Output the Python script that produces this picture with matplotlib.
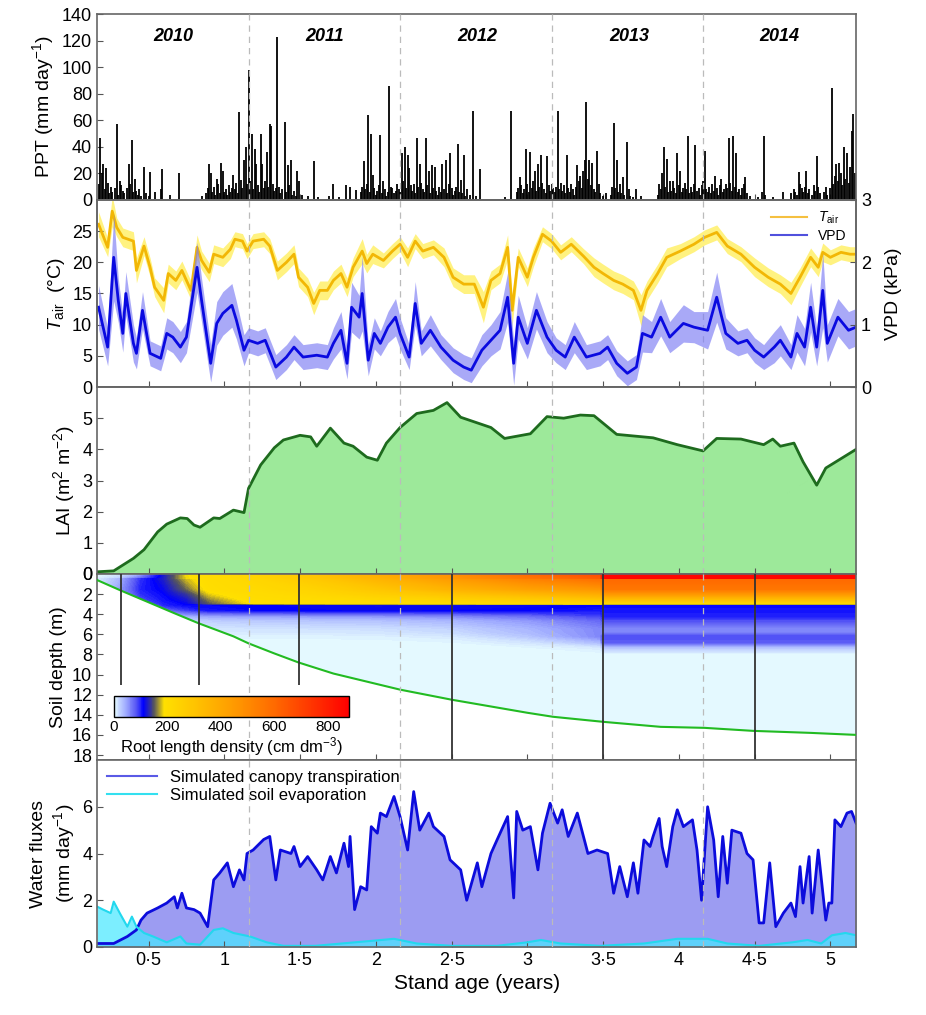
import numpy as np
import matplotlib
matplotlib.use("Agg")
import matplotlib.pyplot as plt
from matplotlib.colors import LinearSegmentedColormap, Normalize
from matplotlib.cm import ScalarMappable
from matplotlib.lines import Line2D
from matplotlib.ticker import FuncFormatter

plt.rcParams['font.family'] = ['Liberation Sans', 'DejaVu Sans']
plt.rcParams['mathtext.fontset'] = 'custom'
plt.rcParams['mathtext.rm'] = 'Liberation Sans'
plt.rcParams['mathtext.it'] = 'Liberation Sans:italic'
plt.rcParams['mathtext.bf'] = 'Liberation Sans:bold'

# ---------------- data (stand age in years) ----------------
year_names = ['2010', '2011', '2012', '2013', '2014']
year_label_age = [0.66, 1.66, 2.67, 3.67, 4.66]
year_starts = [1.16, 2.16, 3.16, 4.16]

# daily rainfall events (age, mm/day)
ppt = [(0.17, 12), (0.18, 47), (0.19, 20), (0.20, 27), (0.21, 8), (0.22, 24), (0.23, 13), (0.24, 5),
       (0.25, 10), (0.26, 6), (0.28, 9), (0.29, 57), (0.30, 4), (0.31, 14), (0.32, 11), (0.33, 7),
       (0.34, 5), (0.36, 9), (0.37, 27), (0.38, 12), (0.39, 45), (0.40, 6), (0.41, 16), (0.42, 7),
       (0.43, 4), (0.44, 8), (0.45, 3), (0.47, 25), (0.48, 5), (0.50, 3), (0.51, 21), (0.54, 6),
       (0.58, 8), (0.59, 23), (0.64, 4), (0.70, 20), (0.85, 3), (0.88, 5), (0.89, 9), (0.90, 27),
       (0.91, 20), (0.92, 6), (0.93, 10), (0.94, 4), (0.95, 16), (0.96, 12), (0.97, 5), (0.98, 28),
       (0.99, 22), (1.00, 6), (1.01, 8), (1.02, 4), (1.03, 11), (1.04, 6), (1.05, 9), (1.06, 19),
       (1.07, 8), (1.08, 13), (1.09, 5), (1.10, 66), (1.11, 15), (1.12, 9), (1.13, 30), (1.14, 40),
       (1.15, 12), (1.16, 98), (1.17, 14), (1.18, 50), (1.19, 8), (1.20, 38), (1.21, 27), (1.22, 11),
       (1.23, 6), (1.24, 50), (1.25, 27), (1.26, 9), (1.27, 14), (1.28, 36), (1.29, 10), (1.30, 57),
       (1.31, 56), (1.32, 12), (1.33, 7), (1.34, 9), (1.35, 123), (1.36, 10), (1.37, 5), (1.38, 8),
       (1.40, 59), (1.41, 6), (1.42, 26), (1.43, 11), (1.44, 30), (1.45, 4), (1.46, 7), (1.47, 3),
       (1.48, 22), (1.49, 14), (1.51, 4), (1.55, 3), (1.59, 29), (1.62, 2), (1.69, 3), (1.72, 12),
       (1.76, 2), (1.80, 11), (1.83, 10), (1.87, 7.5), (1.90, 6), (1.91, 10), (1.92, 29), (1.93, 8),
       (1.94, 12), (1.95, 64), (1.96, 6), (1.97, 50), (1.98, 19), (1.99, 9), (2.00, 4), (2.01, 7),
       (2.02, 11), (2.03, 49), (2.04, 5), (2.05, 14), (2.06, 8), (2.07, 3), (2.08, 6), (2.09, 86),
       (2.10, 10), (2.11, 9), (2.12, 5), (2.13, 7), (2.14, 12), (2.15, 8), (2.16, 6), (2.17, 35),
       (2.18, 14), (2.19, 40), (2.20, 9), (2.21, 34), (2.22, 24), (2.23, 11), (2.24, 7), (2.25, 12),
       (2.26, 5), (2.27, 47), (2.28, 10), (2.29, 27), (2.30, 13), (2.31, 8), (2.32, 6), (2.33, 47),
       (2.34, 11), (2.35, 22), (2.36, 5), (2.37, 26), (2.38, 9), (2.39, 25), (2.40, 7), (2.41, 4),
       (2.42, 10), (2.43, 6), (2.44, 27), (2.45, 8), (2.46, 30), (2.47, 5), (2.48, 12), (2.49, 35),
       (2.50, 9), (2.51, 4), (2.52, 7), (2.53, 10), (2.54, 42), (2.55, 6), (2.56, 15), (2.57, 5),
       (2.58, 34), (2.59, 3), (2.60, 8), (2.62, 4), (2.64, 67), (2.66, 3), (2.69, 23), (2.85, 2),
       (2.89, 67), (2.93, 6), (2.94, 9), (2.95, 17), (2.96, 11), (2.97, 5), (2.98, 8), (2.99, 38),
       (3.00, 12), (3.01, 6), (3.02, 36), (3.03, 9), (3.04, 14), (3.05, 22), (3.06, 7), (3.07, 27),
       (3.08, 10), (3.09, 34), (3.10, 13), (3.11, 8), (3.12, 5), (3.13, 33), (3.14, 11), (3.15, 7),
       (3.16, 12), (3.17, 9), (3.18, 6), (3.19, 10), (3.20, 67), (3.21, 8), (3.22, 13), (3.23, 7),
       (3.24, 11), (3.25, 5), (3.26, 34), (3.27, 9), (3.28, 6), (3.29, 12), (3.30, 8), (3.31, 4),
       (3.32, 10), (3.33, 26), (3.34, 14), (3.35, 18), (3.36, 9), (3.37, 22), (3.38, 30), (3.39, 74),
       (3.40, 16), (3.41, 30), (3.42, 11), (3.43, 28), (3.44, 8), (3.45, 6), (3.46, 37), (3.47, 12),
       (3.48, 5), (3.50, 3), (3.52, 5), (3.55, 4), (3.56, 10), (3.57, 58), (3.58, 9), (3.59, 30),
       (3.60, 6), (3.61, 12), (3.62, 5), (3.63, 17), (3.64, 4), (3.66, 44), (3.67, 8), (3.68, 3),
       (3.70, 2), (3.72, 8), (3.75, 3), (3.86, 4), (3.87, 12), (3.88, 8), (3.89, 20), (3.90, 40),
       (3.91, 10), (3.92, 31), (3.93, 6), (3.94, 14), (3.95, 7), (3.96, 14), (3.97, 9), (3.98, 5),
       (3.99, 35), (4.00, 11), (4.01, 22), (4.02, 6), (4.03, 9), (4.04, 13), (4.05, 8), (4.06, 48),
       (4.07, 5), (4.08, 10), (4.09, 6), (4.10, 12), (4.11, 41), (4.12, 7), (4.13, 9), (4.14, 4),
       (4.15, 11), (4.16, 14), (4.17, 37), (4.18, 8), (4.19, 6), (4.20, 10), (4.21, 5), (4.22, 12),
       (4.23, 7), (4.24, 18), (4.25, 9), (4.26, 4), (4.27, 11), (4.28, 16), (4.29, 6), (4.30, 8),
       (4.31, 12), (4.32, 9), (4.33, 47), (4.34, 13), (4.35, 7), (4.36, 48), (4.37, 10), (4.38, 35),
       (4.39, 6), (4.40, 8), (4.41, 4), (4.42, 9), (4.43, 12), (4.44, 17), (4.45, 5), (4.47, 3),
       (4.52, 2), (4.55, 6), (4.56, 48), (4.57, 4), (4.62, 2), (4.69, 6), (4.74, 5), (4.76, 8),
       (4.77, 6), (4.78, 4), (4.79, 21), (4.80, 12), (4.81, 9), (4.82, 6), (4.83, 10), (4.84, 22),
       (4.85, 5), (4.86, 8), (4.88, 4), (4.89, 11), (4.90, 7), (4.91, 33), (4.92, 10), (4.93, 5),
       (4.96, 6), (4.97, 10), (4.98, 4), (5.00, 9), (5.01, 84), (5.02, 12), (5.03, 18), (5.04, 27),
       (5.05, 14), (5.06, 28), (5.07, 20), (5.08, 11), (5.09, 40), (5.10, 16), (5.11, 35), (5.12, 13),
       (5.13, 25), (5.14, 52), (5.15, 65), (5.16, 20)]

tair_age = [0.17, 0.23, 0.26, 0.29, 0.33, 0.40, 0.42, 0.47, 0.51, 0.54, 0.60, 0.63, 0.68, 0.72, 0.78,
            0.82, 0.85, 0.90, 0.93, 0.99, 1.04, 1.07, 1.12, 1.15, 1.19, 1.26, 1.30, 1.35, 1.41, 1.46,
            1.49, 1.55, 1.59, 1.63, 1.68, 1.72, 1.77, 1.81, 1.85, 1.91, 1.94, 1.98, 2.05, 2.11, 2.16,
            2.21, 2.26, 2.31, 2.38, 2.45, 2.51, 2.58, 2.65, 2.71, 2.76, 2.82, 2.87, 2.90, 2.94, 3.00,
            3.04, 3.10, 3.16, 3.22, 3.29, 3.37, 3.44, 3.50, 3.57, 3.63, 3.70, 3.75, 3.79, 3.86, 3.92,
            4.01, 4.10, 4.17, 4.25, 4.32, 4.41, 4.50, 4.59, 4.67, 4.74, 4.80, 4.87, 4.92, 4.95, 5.00,
            5.07, 5.13, 5.17]
tair_val = [26.1, 22.4, 28.2, 25.6, 24.0, 23.4, 18.7, 22.6, 19.2, 16.0, 13.9, 18.2, 17.1, 18.7, 15.5,
            22.4, 20.3, 18.4, 21.3, 20.8, 22.1, 23.7, 23.4, 21.8, 23.4, 23.7, 22.6, 18.7, 20.0, 21.3,
            17.6, 16.0, 13.4, 15.5, 15.5, 17.1, 18.2, 16.0, 19.2, 21.8, 19.8, 21.3, 20.3, 21.8, 22.9,
            20.8, 23.4, 21.8, 22.4, 20.8, 17.6, 16.5, 16.5, 12.8, 17.1, 18.2, 22.4, 12.3, 20.8, 17.6,
            20.8, 24.5, 23.4, 21.6, 22.9, 21.0, 19.2, 18.2, 17.1, 16.5, 15.5, 12.3, 15.5, 18.2, 20.8,
            21.8, 22.9, 24.0, 24.8, 22.6, 21.3, 19.2, 17.6, 16.5, 15.0, 17.6, 20.8, 19.2, 21.6, 20.8,
            21.6, 21.3, 21.3]
tair_sd = [2.0, 1.5, 2.5, 1.5, 1.5, 1.5, 2.0, 1.5, 1.5, 1.5, 2.0, 1.5, 1.5, 1.5, 1.5,
           2.0, 1.5, 1.5, 1.5, 1.5, 1.5, 1.2, 1.2, 1.2, 1.2, 1.2, 1.2, 1.5, 1.5, 1.5,
           1.5, 1.5, 1.8, 1.5, 1.5, 1.5, 1.5, 1.5, 1.5, 2.0, 1.5, 1.5, 1.2, 1.2, 1.2,
           1.5, 1.2, 1.2, 1.2, 1.5, 1.5, 1.5, 1.5, 2.5, 1.5, 1.5, 2.0, 2.5, 1.5, 1.5,
           1.5, 1.2, 1.2, 1.2, 1.2, 1.2, 1.5, 1.5, 1.5, 1.5, 1.5, 2.5, 1.5, 1.5, 1.5,
           1.2, 1.2, 1.2, 1.2, 1.2, 1.2, 1.5, 1.5, 1.5, 1.8, 1.5, 1.5, 1.5, 1.5, 1.2,
           1.2, 1.2, 1.2]

vpd_age = [0.17, 0.23, 0.27, 0.30, 0.33, 0.35, 0.40, 0.42, 0.46, 0.51, 0.58, 0.62, 0.66, 0.71, 0.75,
           0.82, 0.85, 0.91, 0.95, 0.99, 1.05, 1.08, 1.13, 1.16, 1.22, 1.27, 1.34, 1.41, 1.46, 1.52,
           1.61, 1.68, 1.72, 1.77, 1.81, 1.84, 1.89, 1.91, 1.95, 1.99, 2.03, 2.08, 2.13, 2.16, 2.22,
           2.26, 2.30, 2.36, 2.43, 2.51, 2.58, 2.63, 2.70, 2.76, 2.82, 2.87, 2.91, 2.94, 3.00, 3.06,
           3.13, 3.19, 3.25, 3.31, 3.39, 3.48, 3.53, 3.59, 3.66, 3.72, 3.76, 3.82, 3.88, 3.94, 4.03,
           4.10, 4.19, 4.25, 4.31, 4.39, 4.45, 4.50, 4.56, 4.63, 4.67, 4.74, 4.78, 4.83, 4.87, 4.91,
           4.95, 4.98, 5.05, 5.12, 5.17]
vpd_val = [1.28, 0.64, 2.08, 1.39, 0.86, 1.50, 0.70, 0.54, 1.23, 0.54, 0.46, 0.86, 0.80, 0.64, 0.80,
           1.92, 1.39, 0.38, 1.02, 1.18, 1.31, 1.07, 0.59, 0.75, 0.70, 0.75, 0.32, 0.48, 0.64, 0.48,
           0.51, 0.48, 0.70, 0.91, 0.38, 1.28, 1.12, 1.50, 0.43, 0.86, 0.70, 0.96, 1.12, 0.86, 0.48,
           1.34, 0.70, 0.91, 0.64, 0.43, 0.32, 0.27, 0.59, 0.75, 0.91, 1.44, 0.38, 1.12, 0.70, 1.23,
           0.80, 0.59, 0.48, 0.80, 0.48, 0.54, 0.64, 0.38, 0.22, 0.32, 0.86, 0.80, 1.12, 0.80, 1.02,
           0.96, 0.91, 1.44, 0.86, 0.70, 0.75, 0.59, 0.48, 0.64, 0.75, 0.48, 0.86, 0.64, 1.28, 0.64,
           1.55, 0.70, 1.12, 0.91, 0.96]
vpd_sd = [0.35, 0.30, 0.70, 0.35, 0.30, 0.35, 0.30, 0.25, 0.30, 0.20, 0.20, 0.25, 0.25, 0.25, 0.25,
          0.40, 0.35, 0.30, 0.35, 0.35, 0.35, 0.30, 0.25, 0.20, 0.20, 0.20, 0.20, 0.20, 0.20, 0.20,
          0.20, 0.20, 0.25, 0.30, 0.25, 0.40, 0.35, 0.60, 0.25, 0.25, 0.20, 0.25, 0.30, 0.25, 0.20,
          0.35, 0.20, 0.25, 0.20, 0.20, 0.20, 0.20, 0.25, 0.25, 0.30, 0.40, 0.35, 0.35, 0.25, 0.30,
          0.25, 0.20, 0.20, 0.25, 0.20, 0.20, 0.20, 0.20, 0.20, 0.20, 0.30, 0.25, 0.30, 0.25, 0.30,
          0.25, 0.30, 0.40, 0.25, 0.20, 0.20, 0.20, 0.20, 0.25, 0.25, 0.20, 0.30, 0.30, 0.40, 0.30,
          0.60, 0.30, 0.30, 0.30, 0.30]

lai_age = [0.16, 0.27, 0.40, 0.47, 0.56, 0.62, 0.71, 0.755, 0.80, 0.84, 0.93, 0.97, 1.06, 1.13, 1.16,
           1.24, 1.33, 1.39, 1.50, 1.57, 1.61, 1.70, 1.79, 1.85, 1.94, 2.01, 2.07, 2.16, 2.27, 2.38,
           2.47, 2.56, 2.76, 2.85, 3.02, 3.13, 3.24, 3.35, 3.44, 3.59, 3.83, 3.99, 4.16, 4.25, 4.41,
           4.56, 4.62, 4.67, 4.76, 4.82, 4.91, 4.97, 5.07, 5.17]
lai_val = [0.07, 0.10, 0.50, 0.78, 1.35, 1.60, 1.80, 1.78, 1.57, 1.50, 1.80, 1.78, 2.05, 1.97, 2.75,
           3.50, 4.05, 4.30, 4.45, 4.40, 4.10, 4.68, 4.20, 4.10, 3.75, 3.65, 4.20, 4.70, 5.15, 5.25,
           5.50, 5.03, 4.70, 4.35, 4.50, 5.05, 5.00, 5.10, 5.08, 4.48, 4.37, 4.15, 3.95, 4.35, 4.33,
           4.15, 4.33, 4.10, 4.20, 3.60, 2.85, 3.40, 3.70, 4.00]

# rooting front depth (m)
root_age = [0.16, 0.31, 0.49, 0.67, 0.83, 1.06, 1.16, 1.33, 1.49, 1.72, 1.94, 2.16, 2.50, 3.00, 3.17,
            3.50, 3.88, 4.17, 4.49, 4.87, 5.17]
root_depth = [0.6, 1.6, 2.75, 3.9, 4.9, 6.2, 6.9, 7.9, 8.8, 9.9, 10.7, 11.5, 12.5, 13.8, 14.2,
              14.7, 15.2, 15.3, 15.6, 15.8, 16.0]

# sampling dates and excavation depths
obs_age = [0.32, 0.83, 1.49, 2.50, 3.50, 4.50]
obs_depth = [11, 11, 11, 18.5, 18.5, 18.5]

# root length density (cm dm-3): rows = rld_age, columns = soil_depth
soil_depth = [0, 0.4, 0.5, 1.5, 2.0, 2.6, 2.95, 3.05, 3.6, 4.2, 4.6, 5.4, 5.8, 6.2, 6.8, 7.3, 8.0, 18.5]
rld_age = [0.16, 0.30, 0.45, 0.60, 0.75, 0.90, 1.20, 1.60, 2.00, 2.50, 3.00, 3.48, 3.50, 4.00, 4.50, 5.17]
rld = [
    [2, 5, 8, 10, 8, 5, 2, 2, 0, 0, 0, 0, 0, 0, 0, 0, 0, 0],
    [10, 20, 35, 45, 40, 25, 10, 5, 0, 0, 0, 0, 0, 0, 0, 0, 0, 0],
    [40, 70, 95, 100, 95, 85, 70, 50, 25, 10, 0, 0, 0, 0, 0, 0, 0, 0],
    [120, 125, 125, 115, 110, 105, 100, 100, 70, 35, 15, 5, 0, 0, 0, 0, 0, 0],
    [185, 182, 175, 155, 135, 120, 112, 110, 90, 40, 20, 8, 4, 2, 0, 0, 0, 0],
    [205, 203, 200, 195, 180, 160, 150, 110, 105, 45, 25, 12, 8, 4, 0, 0, 0, 0],
    [235, 230, 225, 212, 204, 196, 190, 112, 110, 48, 28, 14, 10, 5, 0, 0, 0, 0],
    [300, 290, 280, 240, 222, 205, 196, 115, 112, 50, 30, 15, 10, 5, 0, 0, 0, 0],
    [380, 360, 350, 290, 255, 215, 200, 118, 114, 52, 32, 16, 12, 6, 0, 0, 0, 0],
    [480, 460, 440, 360, 300, 235, 205, 118, 112, 58, 38, 22, 18, 10, 3, 0, 0, 0],
    [600, 560, 520, 420, 340, 255, 210, 115, 110, 70, 52, 38, 35, 28, 12, 3, 0, 0],
    [680, 640, 580, 460, 380, 280, 220, 112, 105, 88, 75, 60, 60, 60, 35, 10, 0, 0],
    [860, 860, 600, 560, 450, 300, 210, 110, 105, 100, 85, 60, 60, 85, 80, 30, 0, 0],
    [860, 860, 600, 560, 450, 300, 210, 110, 105, 100, 85, 60, 60, 85, 80, 30, 0, 0],
    [860, 860, 600, 560, 450, 300, 210, 110, 105, 100, 85, 60, 60, 85, 80, 30, 0, 0],
    [860, 860, 600, 560, 450, 300, 210, 110, 105, 100, 85, 60, 60, 85, 80, 30, 0, 0],
]

tr_age = [0.16, 0.27, 0.36, 0.42, 0.45, 0.49, 0.56, 0.62, 0.67, 0.69, 0.72, 0.75, 0.80, 0.84, 0.89,
          0.93, 0.97, 1.02, 1.06, 1.10, 1.13, 1.15, 1.19, 1.26, 1.30, 1.34, 1.37, 1.44, 1.46, 1.50,
          1.55, 1.61, 1.65, 1.70, 1.74, 1.79, 1.82, 1.83, 1.86, 1.90, 1.94, 1.97, 2.01, 2.03, 2.07,
          2.12, 2.16, 2.21, 2.25, 2.29, 2.35, 2.38, 2.45, 2.49, 2.56, 2.60, 2.67, 2.70, 2.76, 2.80,
          2.87, 2.91, 2.93, 2.97, 3.02, 3.07, 3.10, 3.15, 3.20, 3.23, 3.27, 3.33, 3.40, 3.46, 3.53,
          3.57, 3.61, 3.66, 3.70, 3.73, 3.77, 3.81, 3.83, 3.87, 3.89, 3.92, 3.96, 3.99, 4.03, 4.09,
          4.12, 4.15, 4.19, 4.23, 4.26, 4.29, 4.32, 4.35, 4.41, 4.45, 4.49, 4.53, 4.56, 4.60, 4.64,
          4.69, 4.74, 4.77, 4.80, 4.82, 4.86, 4.88, 4.92, 4.97, 4.99, 5.01, 5.03, 5.07, 5.11, 5.14,
          5.17]
tr_val = [0.15, 0.15, 0.45, 0.73, 1.15, 1.45, 1.67, 1.88, 2.15, 1.67, 2.30, 1.67, 1.60, 1.45, 0.87,
          2.87, 3.17, 3.60, 2.58, 3.30, 2.87, 4.00, 4.15, 4.60, 4.73, 2.87, 4.15, 4.00, 4.30, 3.44,
          3.87, 3.30, 2.87, 3.87, 3.17, 4.44, 3.44, 4.73, 1.60, 2.58, 2.44, 5.15, 4.87, 5.73, 5.58,
          6.44, 5.58, 4.15, 6.65, 5.00, 5.73, 5.15, 4.73, 3.73, 3.30, 2.00, 3.60, 2.58, 4.00, 4.58,
          5.58, 2.10, 5.80, 5.00, 5.15, 3.30, 4.87, 6.15, 5.30, 5.87, 4.73, 5.73, 4.00, 4.15, 4.00,
          2.30, 3.44, 2.15, 3.60, 2.30, 4.58, 4.30, 4.73, 5.50, 4.30, 3.44, 5.15, 5.87, 5.15, 5.44,
          4.15, 2.00, 6.00, 4.58, 2.15, 4.73, 2.73, 5.00, 4.87, 4.00, 3.73, 1.03, 1.03, 3.60, 0.87,
          1.45, 1.88, 1.30, 3.44, 1.88, 3.87, 1.45, 4.15, 1.15, 1.88, 1.88, 5.44, 5.15, 5.73, 5.80,
          5.30]

ev_age = [0.16, 0.20, 0.25, 0.27, 0.31, 0.36, 0.39, 0.42, 0.47, 0.53, 0.62, 0.71, 0.75, 0.84, 0.93,
          0.99, 1.06, 1.17, 1.28, 1.39, 1.60, 1.95, 2.12, 2.27, 2.50, 2.80, 3.00, 3.09, 3.22, 3.48,
          3.77, 3.99, 4.19, 4.32, 4.53, 4.75, 4.85, 4.94, 5.01, 5.10, 5.17]
ev_val = [1.73, 1.60, 1.45, 1.94, 1.45, 0.87, 1.30, 0.87, 0.60, 0.45, 0.20, 0.45, 0.15, 0.10, 0.73,
          0.80, 0.60, 0.45, 0.20, 0.05, 0.05, 0.25, 0.35, 0.15, 0.05, 0.05, 0.20, 0.30, 0.15, 0.05,
          0.15, 0.35, 0.35, 0.15, 0.05, 0.20, 0.30, 0.15, 0.50, 0.60, 0.50]

age_ticks = [0.5, 1, 1.5, 2, 2.5, 3, 3.5, 4, 4.5, 5]

# ---------------- figure ----------------
fig = plt.figure(figsize=(9.26, 10.15), dpi=100)
left, width = 0.1048, 0.8197
ax1 = fig.add_axes([left, 0.8030, width, 0.1832])
ax2 = fig.add_axes([left, 0.6187, width, 0.1843])
ax3 = fig.add_axes([left, 0.4345, width, 0.1842])
ax4 = fig.add_axes([left, 0.2512, width, 0.1833])
ax5 = fig.add_axes([left, 0.0670, width, 0.1842])
axes = [ax1, ax2, ax3, ax4, ax5]

fs_tick = 13
fs_lab = 14

for ax in axes:
    ax.set_xlim(0.16, 5.17)
    ax.set_xticks(age_ticks)
    ax.tick_params(axis='both', direction='in', labelsize=fs_tick, length=4, color='#555555')
    for s in ax.spines.values():
        s.set_color('#666666')
        s.set_linewidth(1.2)
    for ys in year_starts:
        ax.axvline(ys, color='#bbbbbb', ls=(0, (5, 4)), lw=0.9, zorder=4)
    if ax is not ax5:
        ax.tick_params(axis='x', labelbottom=False)

# PPT
pa = [p[0] for p in ppt]
pv = [p[1] for p in ppt]
ax1.vlines(pa, 0, pv, color='black', lw=1.3)
ax1.set_ylim(0, 140)
ax1.set_yticks(range(0, 141, 20))
ax1.set_ylabel('PPT (mm day$^{-1}$)', fontsize=fs_lab)
for name, xa in zip(year_names, year_label_age):
    ax1.text(xa, 123, name, ha='center', va='center', fontsize=13,
             fontweight='bold', style='italic')

# Tair and VPD
ta = np.array(tair_val)
tsd = np.array(tair_sd)
ax2.fill_between(tair_age, ta - tsd, ta + tsd, color='#fff06a', alpha=0.85, lw=0)
ax2.plot(tair_age, tair_val, color='#f2b705', lw=2)
ax2.set_ylim(0, 30)
ax2.set_yticks(range(0, 26, 5))
ax2.set_ylabel(r'$T_{\rm air}$  (°C)', fontsize=fs_lab)
ax2b = ax2.twinx()
va_ = np.array(vpd_val)
vsd = np.array(vpd_sd)
ax2b.fill_between(vpd_age, np.clip(va_ - vsd, 0, None), va_ + vsd, color='#7c7cf4', alpha=0.65, lw=0)
ax2b.plot(vpd_age, vpd_val, color='#0a0ae0', lw=2)
ax2b.set_ylim(0, 3)
ax2b.set_yticks([0, 1, 2, 3])
ax2b.tick_params(axis='y', direction='in', labelsize=fs_tick, length=4, color='#555555')
ax2b.set_ylabel('VPD (kPa)', fontsize=fs_lab, labelpad=10)
for s in ax2b.spines.values():
    s.set_color('#666666')
    s.set_linewidth(1.2)
h = [Line2D([], [], color='#f5c040', lw=1.5), Line2D([], [], color='#5050dd', lw=1.5)]
ax2b.legend(h, [r'$T_{\rm air}$', 'VPD'], loc='upper right', fontsize=10, frameon=False,
            handlelength=2.6, borderaxespad=0.3, labelspacing=0.2)

# LAI
ax3.fill_between(lai_age, 0, lai_val, color='#9de99a', lw=0)
ax3.plot(lai_age, lai_val, color='#1e6b1e', lw=2)
ax3.set_ylim(0, 6)
ax3.set_yticks(range(0, 6))
ax3.set_ylabel('LAI (m$^2$ m$^{-2}$)', fontsize=fs_lab)

# soil roots
cmap = LinearSegmentedColormap.from_list('rld', [
    (0.0, '#e4f9ff'), (40 / 880, '#a4b0ff'), (80 / 880, '#5a5af5'), (110 / 880, '#0000ff'),
    (150 / 880, '#55555e'), (185 / 880, '#ffe000'), (300 / 880, '#ffc400'),
    (450 / 880, '#ff9a00'), (600 / 880, '#ff6a00'), (1.0, '#ff0000')])
norm = Normalize(0, 880)
front = ax4.fill_between(root_age, 0, root_depth, color='#e4f9ff', lw=0, zorder=1)
X, Y = np.meshgrid(rld_age, soil_depth)
C = np.array(rld, dtype=float).T
cs = ax4.contourf(X, Y, C, levels=np.linspace(0, 880, 881), cmap=cmap, norm=norm, zorder=2)
cs.set_clip_path(front.get_paths()[0], ax4.transData)
ax4.plot(root_age, root_depth, color='#22bb22', lw=1.5, zorder=3)
ax4.vlines(obs_age, 0, obs_depth, color='#333333', lw=1.3, zorder=5)
ax4.set_ylim(18.5, 0)
ax4.set_yticks(range(0, 19, 2))
ax4.set_ylabel('Soil depth (m)', fontsize=fs_lab)

cax = fig.add_axes([0.123, 0.2936, 0.254, 0.0203])
cb = fig.colorbar(ScalarMappable(norm=norm, cmap=cmap), cax=cax, orientation='horizontal')
cb.set_ticks([0, 200, 400, 600, 800])
cb.ax.tick_params(labelsize=11, length=0, pad=2)
cb.outline.set_linewidth(1.0)
cb.set_label('Root length density (cm dm$^{-3}$)', fontsize=12, labelpad=1)

# water fluxes
ax5.fill_between(tr_age, 0, tr_val, color='#9c9cf2', lw=0)
ax5.fill_between(ev_age, 0, ev_val, color='#44e8ff', alpha=0.7, lw=0)
ax5.plot(tr_age, tr_val, color='#0c0cdc', lw=2)
ax5.plot(ev_age, ev_val, color='#22d8ee', lw=1.5)
ax5.set_ylim(0, 8)
ax5.set_yticks([0, 2, 4, 6])
ax5.set_ylabel('Water fluxes\n(mm day$^{-1}$)', fontsize=fs_lab)
h = [Line2D([], [], color='#5a5ae6', lw=1.5), Line2D([], [], color='#33e0f0', lw=1.5)]
ax5.legend(h, ['Simulated canopy transpiration', 'Simulated soil evaporation'], loc='upper left',
           fontsize=12, frameon=False, handlelength=3, borderaxespad=0.2, labelspacing=0.15)
ax5.xaxis.set_major_formatter(FuncFormatter(lambda v, p: ('%g' % v).replace('.', '\u00b7')))
ax5.set_xlabel('Stand age (years)', fontsize=15)

fig.savefig('out.png', dpi=100)
